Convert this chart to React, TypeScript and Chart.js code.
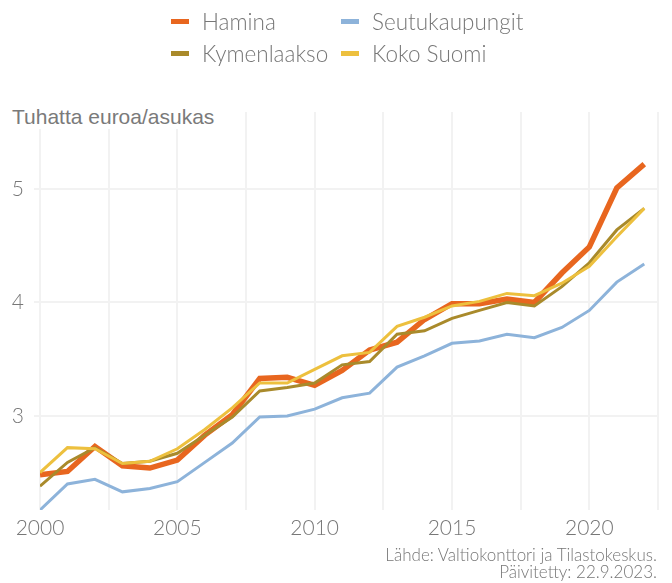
import React, { useEffect, useRef } from "react";
import { Chart, registerables } from "chart.js";

Chart.register(...registerables);

const years = [2000, 2001, 2002, 2003, 2004, 2005, 2006, 2007, 2008, 2009, 2010, 2011, 2012, 2013, 2014, 2015, 2016, 2017, 2018, 2019, 2020, 2021, 2022];
const hamina = [2.48, 2.51, 2.73, 2.56, 2.54, 2.61, 2.83, 3.01, 3.33, 3.34, 3.27, 3.40, 3.58, 3.65, 3.85, 3.99, 3.99, 4.03, 4.00, 4.26, 4.49, 5.01, 5.22];
const seutukaupungit = [2.17, 2.40, 2.44, 2.33, 2.36, 2.42, 2.59, 2.76, 2.99, 3.00, 3.06, 3.16, 3.20, 3.43, 3.53, 3.64, 3.66, 3.72, 3.69, 3.78, 3.93, 4.18, 4.34];
const kymenlaakso = [2.38, 2.59, 2.72, 2.58, 2.60, 2.67, 2.83, 2.99, 3.22, 3.25, 3.29, 3.45, 3.48, 3.72, 3.75, 3.86, 3.93, 4.00, 3.97, 4.14, 4.35, 4.64, 4.83];
const kokoSuomi = [2.50, 2.72, 2.71, 2.58, 2.60, 2.71, 2.88, 3.07, 3.29, 3.29, 3.41, 3.53, 3.56, 3.79, 3.87, 3.97, 4.01, 4.08, 4.06, 4.17, 4.32, 4.58, 4.83];

const seriesNames = ["Hamina", "Seutukaupungit", "Kymenlaakso", "Koko Suomi"];
const seriesColors = ["#E8661F", "#8DB3DA", "#A98A2B", "#EDC03E"];
const seriesWidths = [5.5, 3, 3, 3];
const seriesOrder = [3, 2, 1, 0];
const seriesValues = [hamina, seutukaupungit, kymenlaakso, kokoSuomi];

const yAxisTitle = "Tuhatta euroa/asukas";
const sourceLines = ["Lähde: Valtiokonttori ja Tilastokeskus.", "Päivitetty: 22.9.2023."];

const FONT = "Lato, 'Open Sans', sans-serif";

export default function App() {
  const canvasRef = useRef<HTMLCanvasElement | null>(null);

  useEffect(() => {
    if (!canvasRef.current) return;
    const chart = new Chart(canvasRef.current, {
      type: "line",
      data: {
        datasets: seriesNames.map((name, i) => ({
          label: name,
          data: years.map((y, j) => ({ x: y, y: seriesValues[i][j] })),
          borderColor: seriesColors[i],
          backgroundColor: seriesColors[i],
          borderWidth: seriesWidths[i],
          pointRadius: 0,
          tension: 0,
          order: seriesOrder[i],
        })),
      },
      options: {
        animation: false,
        responsive: false,
        maintainAspectRatio: false,
        layout: { padding: { top: 112, right: 14, left: 0, bottom: 43 } },
        plugins: {
          legend: { display: false },
          tooltip: { enabled: false },
          title: { display: false },
        },
        scales: {
          x: {
            type: "linear",
            min: 2000,
            max: 2022.5,
            afterFit: (s: any) => { s.height = 30; },
            border: { display: false },
            grid: { color: "#f2f2f2", lineWidth: 2, drawTicks: false },
            ticks: {
              stepSize: 2.5,
              autoSkip: false,
              maxRotation: 0,
              padding: 6,
              color: "#777777",
              font: { family: FONT, size: 21, weight: 300 as any },
              callback: (v: any) => (Number(v) % 5 === 0 ? String(v) : ""),
            },
          },
          y: {
            type: "linear",
            min: 2.17,
            max: 5.68,
            afterFit: (s: any) => { s.width = 40; },
            border: { display: false },
            grid: { color: "#f2f2f2", lineWidth: 2, drawTicks: true, tickLength: 6 },
            ticks: {
              stepSize: 1,
              includeBounds: false,
              padding: 10,
              color: "#777777",
              font: { family: FONT, size: 21, weight: 300 as any },
            },
          },
        },
      },
    });
    return () => chart.destroy();
  }, []);

  return (
    <div style={{ position: "fixed", left: 0, top: 0, width: 672, height: 583, background: "#fff", overflow: "hidden" }}>
      <canvas ref={canvasRef} width={672} height={583} style={{ position: "absolute", left: 0, top: 0, width: 672, height: 583 }} />
      <div
        style={{
          position: "absolute",
          left: 171,
          top: 5,
          display: "grid",
          gridTemplateColumns: "170px 200px",
          gridAutoRows: "32px",
          fontFamily: FONT,
          fontWeight: 300,
          fontSize: 22.5,
          color: "#777777",
        }}
      >
        {seriesNames.map((name, i) => (
          <div key={name} style={{ display: "flex", alignItems: "center", whiteSpace: "nowrap" }}>
            <span style={{ display: "inline-block", width: 18, height: 5, background: seriesColors[i], marginRight: 13 }} />
            <span>{name}</span>
          </div>
        ))}
      </div>
      <div
        style={{
          position: "absolute",
          left: 0,
          top: 105,
          padding: "0 6px 0 12px",
          height: 24,
          lineHeight: "24px",
          background: "#fff",
          fontFamily: "'Liberation Sans', Arial, sans-serif",
          fontSize: 21,
          color: "#7a7a7a",
          whiteSpace: "nowrap",
        }}
      >
        {yAxisTitle}
      </div>
      <div
        style={{
          position: "absolute",
          right: 15,
          top: 546,
          textAlign: "right",
          fontFamily: FONT,
          fontWeight: 300,
          fontSize: 17,
          lineHeight: "17px",
          color: "#777777",
        }}
      >
        {sourceLines.map((l) => (
          <div key={l}>{l}</div>
        ))}
      </div>
    </div>
  );
}
